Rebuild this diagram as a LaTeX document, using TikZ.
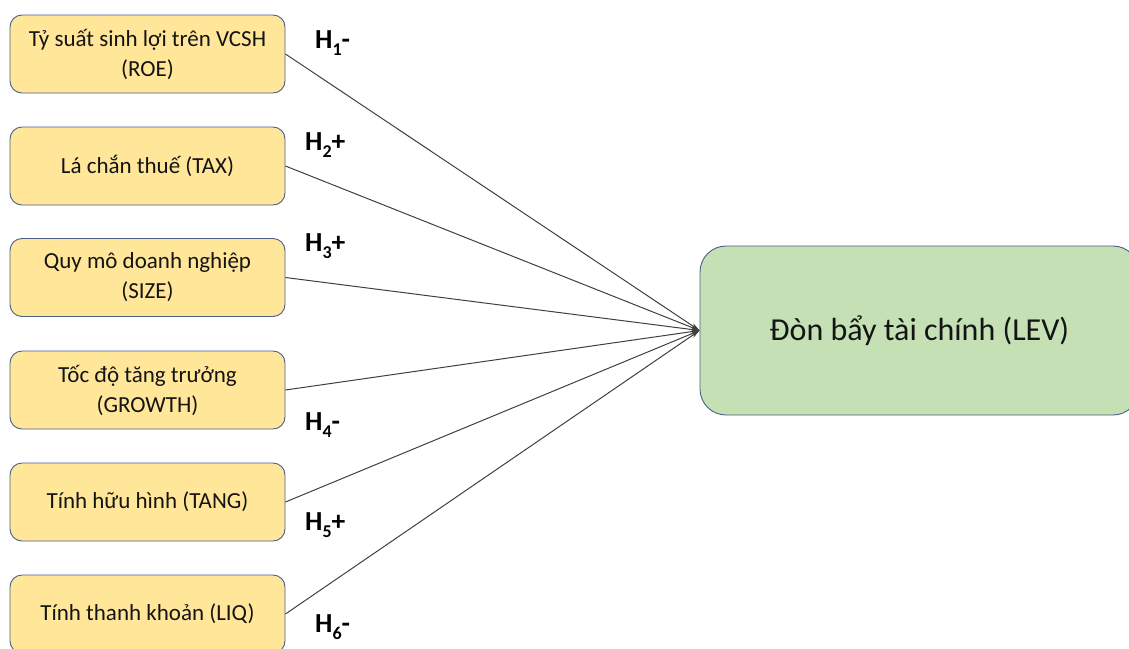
\documentclass[tikz,border=0pt]{standalone}
\usepackage{fontspec}
\setmainfont{Carlito}
\usetikzlibrary{arrows.meta}
\definecolor{boxyellow}{HTML}{FFE699}
\definecolor{boxgreen}{HTML}{C5E0B4}
\definecolor{boxline}{HTML}{4A5F86}
\definecolor{edgegray}{HTML}{404040}
\tikzset{
  varbox/.style={draw=boxline, line width=0.9pt, fill=boxyellow, rounded corners=12pt,
    minimum width=275pt, minimum height=78pt, align=center,
    font=\fontsize{23}{30}\selectfont, text=black!92, inner sep=0pt},
  levbox/.style={draw=boxline, line width=0.9pt, fill=boxgreen, rounded corners=26pt,
    minimum width=439pt, minimum height=169pt, align=center,
    font=\fontsize{32}{36}\selectfont, text=black!92, inner sep=0pt},
  link/.style={draw=edgegray, line width=1pt, -{Stealth[length=9pt,width=5pt]}},
  hyp/.style={anchor=base west, font=\fontsize{27.5}{27.5}\selectfont\bfseries, inner sep=0pt}
}
\newcommand{\hsub}[1]{\raisebox{-0.28em}{\fontsize{18}{18}\selectfont #1}}
\begin{document}
\begin{tikzpicture}[x=1pt,y=-1pt]
\useasboundingbox (0,0) rectangle (1129,648);
\node[varbox] (roe) at (147.5,54) {Tỷ suất sinh lợi trên VCSH\\(ROE)};
\node[varbox] (tax) at (147.5,166) {Lá chắn thuế (TAX)};
\node[varbox] (size) at (147.5,277.5) {Quy mô doanh nghiệp\\(SIZE)};
\node[varbox] (growth) at (147.5,390) {Tốc độ tăng trưởng\\(GROWTH)};
\node[varbox] (tang) at (147.5,502) {Tính hữu hình (TANG)};
\node[varbox] (liq) at (147.5,614) {Tính thanh khoản (LIQ)};
\node[levbox] (lev) at (919.5,330.5) {Đòn bẩy tài chính (LEV)};
\foreach \n in {roe,tax,size,growth,tang,liq}
  \draw[link] (\n.east) -- (lev.west);
\node[hyp] (h1) at (315,48) {H\hsub{1}-};
\node[hyp] (h2) at (305,150) {H\hsub{2}+};
\node[hyp] (h3) at (305,251) {H\hsub{3}+};
\node[hyp] (h4) at (305,430) {H\hsub{4}-};
\node[hyp] (h5) at (305,530) {H\hsub{5}+};
\node[hyp] (h6) at (315,632) {H\hsub{6}-};
\end{tikzpicture}
\end{document}
